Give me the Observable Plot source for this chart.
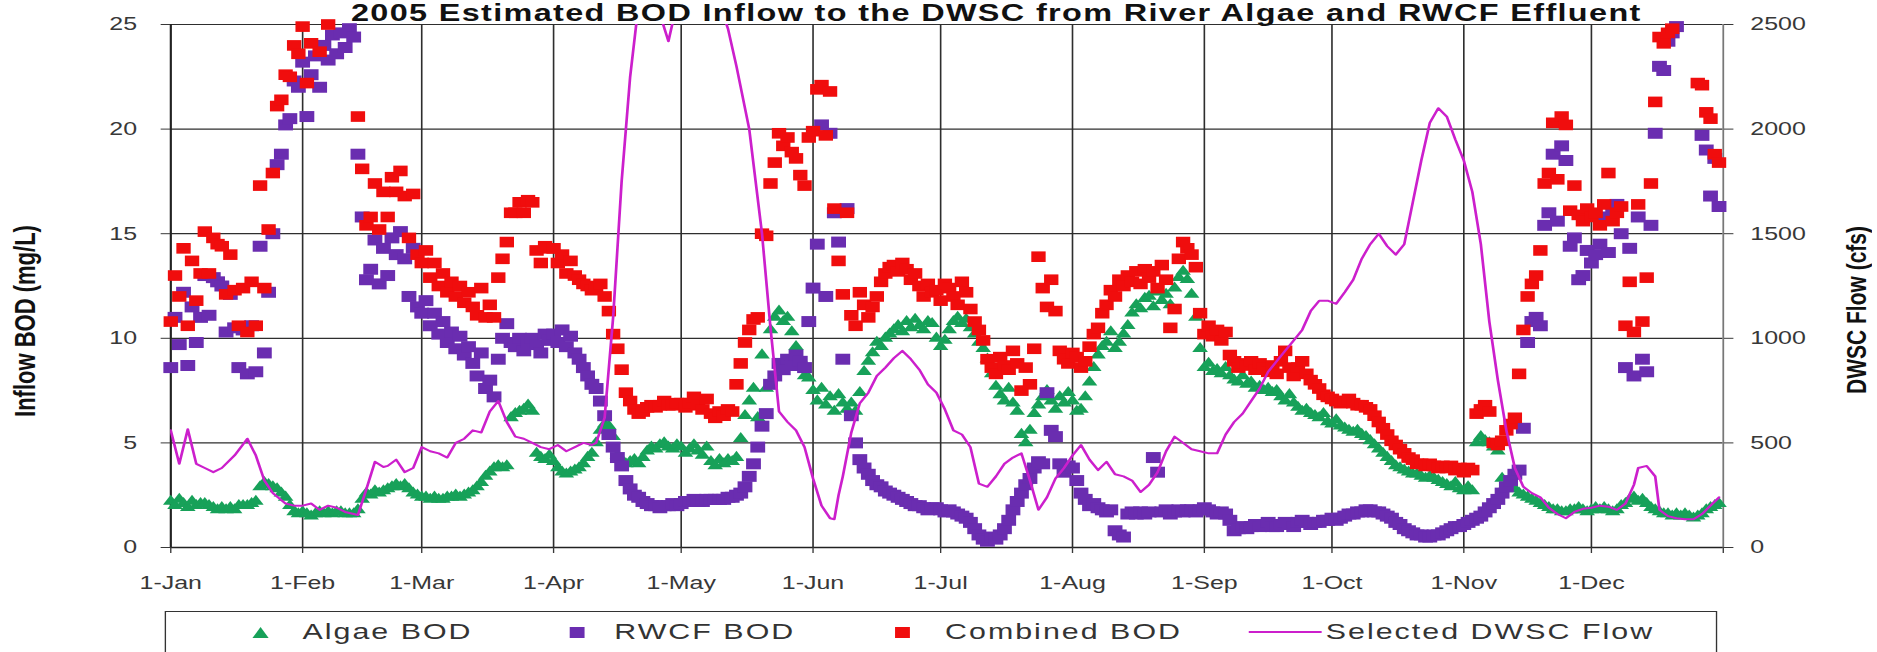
<!DOCTYPE html>
<html>
<head>
<meta charset="utf-8">
<script src="https://cdn.jsdelivr.net/npm/d3@7"></script>
<script src="https://cdn.jsdelivr.net/npm/@observablehq/plot@0.6"></script>
<style>
  html, body { margin: 0; padding: 0; background: #fff; overflow: hidden; }
  /* The whole figure is drawn at 1390 px and widened to the 1877 px page. */
  #stage {
    position: relative; width: 1390px; height: 652px; overflow: hidden;
    transform: scaleX(1.35); transform-origin: 0 0;
    font-family: "Liberation Sans", Arial, sans-serif; color: #333;
  }
  #chart { position: absolute; left: 0; top: 0; }
  .title {
    position: absolute; left: 738px; top: 0px; transform: translateX(-50%);
    font-size: 24px; line-height: 1.12; letter-spacing: 1px; font-weight: bold;
    white-space: nowrap; color: #111;
  }
  .ylabel {
    position: absolute; white-space: nowrap; font-weight: bold; line-height: 1; color: #111;
    transform: translate(-50%, -50%) rotate(-90deg);
  }
  .legend-box {
    position: absolute; left: 121.5px; top: 611px; width: 1150px; height: 70px;
    border: 1.5px solid #333; box-sizing: border-box;
  }
  .legend-item {
    position: absolute; top: 621px; font-size: 22.5px; line-height: 1; letter-spacing: 1.5px;
    white-space: nowrap; color: #333;
  }
  .legend-icon { position: absolute; overflow: visible; }
</style>
</head>
<body>
<div id="stage"></div>
<script>
// ---- 2005 daily series, one value per day starting 1 January ----

// Algae BOD (mg/L)
const algaeBOD = [
  2.2, 2.0, 2.3, 2.1, 1.9, 2.2, 2.0, 2.1, 2.1, 2.0,
  1.9, 1.8, 1.9, 1.8, 1.9, 1.8, 2.0, 2.0, 2.0, 2.1,
  2.2, 2.9, 3.1, 3.0, 2.9, 2.8, 2.6, 2.4, 2.0, 1.7,
  1.6, 1.7, 1.6, 1.5, 1.6, 1.7, 1.6, 1.7, 1.6, 1.7,
  1.7, 1.6, 1.6, 1.6, 1.8, 2.3, 2.6, 2.5, 2.7, 2.6,
  2.7, 2.8, 2.9, 3.0, 2.9, 3.0, 2.8, 2.6, 2.5, 2.4,
  2.4, 2.3, 2.4, 2.3, 2.3, 2.4, 2.4, 2.5, 2.4, 2.5,
  2.6, 2.7, 2.9, 3.1, 3.4, 3.6, 3.8, 3.9, 3.8, 3.9,
  6.2, 6.4, 6.5, 6.6, 6.8, 6.5, 4.5, 4.3, 4.2, 4.4,
  4.1, 3.8, 3.6, 3.5, 3.6, 3.7, 3.8, 4.0, 4.3, 4.5,
  5.0, 5.6, 5.9, 5.8, 5.3, 4.4, 4.2, 4.0, 4.1, 4.2,
  4.0, 4.3, 4.6, 4.8, 4.7, 4.9, 5.0, 4.8, 4.7, 4.9,
  4.8, 4.5, 4.7, 4.9, 4.6, 4.4, 4.8, 4.1, 3.9, 4.2,
  4.0, 4.2, 4.1, 4.3, 5.2, 6.3, 7.0, 7.6, 6.2, 9.2,
  7.6, 10.4, 11.0, 11.3, 10.8, 11.0, 10.3, 9.6, 9.0, 8.2,
  8.1, 7.5, 7.0, 7.6, 6.8, 7.2, 6.5, 7.3, 6.9, 6.6,
  6.9, 6.5, 7.4, 8.4, 8.9, 9.3, 9.8, 9.6, 10.0, 10.2,
  10.4, 10.6, 10.3, 10.8, 10.5, 10.9, 10.6, 10.4, 10.8, 10.7,
  10.0, 9.6, 9.9, 10.4, 10.8, 11.0, 10.7, 10.9, 10.5, 10.2,
  9.8, 9.5, 9.0, 8.3, 7.7, 7.3, 7.0, 7.6, 6.9, 6.5,
  5.4, 5.0, 5.6, 6.4, 6.8, 7.2, 7.5, 7.0, 6.6, 7.2,
  6.9, 7.4, 7.0, 6.5, 6.6, 7.2, 7.9, 8.6, 9.2, 9.6,
  9.8, 10.3, 9.5, 9.8, 10.2, 10.6, 11.2, 11.6, 11.4, 11.9,
  12.0, 11.5, 12.2, 11.8, 12.1, 11.6, 12.4, 12.9, 13.2, 12.8,
  12.1, 11.0, 9.5, 8.6, 8.8, 8.4, 8.5, 8.3, 8.6, 8.2,
  8.0, 7.9, 8.2, 7.8, 7.9, 7.6, 7.7, 7.5, 7.6, 7.4,
  7.5, 7.2, 7.0, 7.3, 6.9, 6.7, 6.5, 6.6, 6.4, 6.3,
  6.2, 6.4, 6.0, 5.9, 6.1, 5.8, 5.7, 5.6, 5.5, 5.6,
  5.4, 5.3, 5.1, 4.9, 4.7, 4.5, 4.3, 4.1, 3.9, 3.8,
  3.7, 3.6, 3.5, 3.5, 3.4, 3.3, 3.4, 3.3, 3.2, 3.1,
  3.0, 2.9, 3.1, 2.8, 2.7, 2.9, 2.7, 5.0, 5.3, 5.1,
  5.0, 4.8, 4.6, 3.3, 3.0, 2.9, 2.8, 2.6, 2.5, 2.4,
  2.3, 2.2, 2.1, 2.0, 1.9, 1.8, 1.8, 1.7, 1.7, 1.8,
  1.8, 1.9, 1.8, 1.7, 1.8, 1.9, 1.8, 1.9, 1.8, 1.7,
  1.8, 2.0, 2.1, 2.3, 2.4, 2.2, 2.3, 2.1, 1.9, 1.8,
  1.7, 1.6, 1.6, 1.5, 1.6, 1.5, 1.6, 1.5, 1.4, 1.5,
  1.6, 1.8, 1.9, 2.0, 2.1
];

// RWCF effluent BOD (mg/L)
const rwcfBOD = [
  8.6, 11.0, 9.7, 12.2, 8.7, 11.5, 9.8, 11.0, 13.0, 11.1,
  12.9, 12.7, 12.5, 10.3, 12.1, 10.5, 8.6, 10.4, 8.3, 10.6,
  8.4, 14.4, 9.3, 12.2, 15.0, 18.3, 18.8, 20.2, 20.5, 22.3,
  22.0, 23.2, 20.6, 22.6, 23.5, 22.0, 24.0, 23.3, 24.5, 23.6,
  24.6, 23.9, 24.8, 24.4, 18.8, 15.8, 12.8, 13.3, 14.7, 12.6,
  14.3, 13.0, 14.8, 14.0, 15.1, 13.8, 12.0, 14.3, 11.5, 11.2,
  11.8, 10.6, 11.2, 10.2, 10.8, 9.8, 10.3, 9.5, 10.1, 9.2,
  9.6, 8.8, 8.2, 9.3, 7.6, 8.0, 7.2, 9.0, 10.0, 10.7,
  9.8, 9.6, 10.0, 9.4, 9.8, 10.0, 9.7, 9.3, 10.2, 9.9,
  10.2, 9.8, 10.4, 9.6, 10.1, 9.3, 9.0, 8.6, 8.2, 7.8,
  7.6, 7.0, 6.3, 5.4, 4.8, 4.3, 3.9, 3.2, 2.8, 2.5,
  2.4, 2.2, 2.1, 2.0, 2.0, 1.9, 2.0, 2.0, 2.1, 2.0,
  2.1, 2.2, 2.2, 2.3, 2.2, 2.2, 2.3, 2.3, 2.3, 2.3,
  2.3, 2.4, 2.4, 2.5, 2.6, 2.9, 3.4, 4.0, 4.8, 5.8,
  6.4, 7.8, 8.2, 8.8, 8.5, 9.0, 8.7, 9.2, 8.9, 8.6,
  10.8, 12.4, 14.5, 20.2, 12.0, 19.8, 16.0, 14.6, 9.0, 16.2,
  6.3, 5.0, 4.2, 3.8, 3.5, 3.2, 3.0, 2.9, 2.7, 2.6,
  2.5, 2.4, 2.3, 2.2, 2.1, 2.0, 2.0, 1.9, 1.8, 1.9,
  1.9, 1.8, 1.7, 1.8, 1.7, 1.6, 1.5, 1.4, 1.2, 0.9,
  0.6, 0.4, 0.3, 0.5, 0.4, 0.6, 0.9, 1.3, 1.8, 2.2,
  2.6, 3.0, 3.3, 3.8, 4.1, 4.0, 7.4, 5.6, 5.3, 4.0,
  3.6, 3.9, 3.8, 3.2, 2.6, 2.3, 2.0, 2.1, 1.9, 1.8,
  1.7, 1.8, 0.8, 0.6, 0.5, 1.6, 1.7, 1.6, 1.7, 1.6,
  1.7, 4.3, 3.6, 1.7, 1.8, 1.6, 1.7, 1.8, 1.7, 1.8,
  1.8, 1.7, 1.8, 1.9, 1.8, 1.7, 1.6, 1.7, 1.6, 1.3,
  0.8, 0.9, 1.0, 0.9, 1.0, 1.1, 1.0, 1.1, 1.2, 1.0,
  1.0, 1.1, 1.2, 1.1, 1.0, 1.2, 1.3, 1.2, 1.1, 1.2,
  1.2, 1.3, 1.3, 1.4, 1.3, 1.4, 1.5, 1.6, 1.6, 1.7,
  1.7, 1.8, 1.8, 1.7, 1.7, 1.6, 1.5, 1.4, 1.2, 1.1,
  0.9, 0.8, 0.7, 0.6, 0.6, 0.5, 0.5, 0.6, 0.6, 0.7,
  0.8, 0.9, 1.0, 1.0, 1.1, 1.2, 1.3, 1.4, 1.5, 1.7,
  1.9, 2.1, 2.3, 2.6, 2.9, 3.2, 3.5, 3.7, 5.7, 9.8,
  10.8, 11.0, 10.6, 15.4, 16.0, 18.8, 15.6, 19.2, 18.5, 14.4,
  14.8, 12.8, 13.0, 14.2, 13.6, 14.0, 14.5, 15.8, 14.1, 16.2,
  16.4, 15.0, 8.6, 14.3, 8.2, 15.8, 9.0, 8.4, 15.4, 19.8,
  23.0, 22.8, 24.2, 24.6, 24.9, 25.6, 26.0, 26.3, 26.5, 25.8,
  19.7, 19.0, 16.8, 18.6, 16.3
];

// Combined BOD (mg/L)
const combinedBOD = [
  10.8, 13.0, 12.0, 14.3, 10.6, 13.7, 11.8, 13.1, 15.1, 13.1,
  14.8, 14.5, 14.4, 12.1, 14.0, 12.3, 10.6, 12.4, 10.3, 12.7,
  10.6, 17.3, 12.4, 15.2, 17.9, 21.1, 21.4, 22.6, 22.5, 24.0,
  23.6, 24.9, 22.2, 24.1, 25.1, 23.7, 25.6, 25.0, 26.1, 25.3,
  26.3, 25.5, 26.4, 26.0, 20.6, 18.1, 15.4, 15.8, 17.4, 15.2,
  17.0, 15.8, 17.7, 17.0, 18.0, 16.8, 14.8, 16.9, 14.0, 13.6,
  14.2, 12.9, 13.6, 12.5, 13.1, 12.2, 12.7, 12.0, 12.5, 11.7,
  12.2, 11.5, 11.1, 12.4, 11.0, 11.6, 11.0, 12.9, 13.8, 14.6,
  16.0, 16.0, 16.5, 16.0, 16.6, 16.5, 14.2, 13.6, 14.4, 14.3,
  14.3, 13.6, 14.0, 13.1, 13.7, 13.0, 12.8, 12.6, 12.5, 12.3,
  12.4, 12.6, 12.0, 11.3, 10.2, 9.5, 8.5, 7.4, 7.0, 6.6,
  6.4, 6.5, 6.7, 6.8, 6.7, 6.8, 7.0, 6.8, 6.8, 6.9,
  6.9, 6.7, 6.9, 7.2, 6.8, 6.6, 7.1, 6.4, 6.2, 6.5,
  6.3, 6.6, 6.5, 7.8, 8.8, 9.8, 10.4, 10.9, 11.0, 15.0,
  14.9, 17.4, 18.4, 19.8, 19.2, 19.6, 18.9, 18.6, 17.8, 17.3,
  19.6, 19.9, 21.9, 22.1, 19.7, 21.8, 16.2, 13.7, 12.1, 16.0,
  11.1, 10.6, 12.2, 11.6, 11.0, 11.5, 12.0, 12.7, 13.1, 13.4,
  13.5, 13.2, 13.6, 13.3, 12.8, 13.1, 12.5, 12.0, 12.6, 12.2,
  12.3, 11.8, 12.6, 12.4, 12.0, 11.6, 12.7, 12.2, 11.4, 10.8,
  10.4, 9.9, 9.0, 8.6, 8.3, 9.1, 8.7, 8.5, 9.4, 8.8,
  7.5, 8.6, 7.8, 9.5, 13.9, 12.4, 11.5, 12.8, 11.3, 9.4,
  9.0, 8.8, 9.3, 9.1, 8.6, 8.9, 9.6, 10.2, 10.5, 11.2,
  11.6, 12.3, 12.0, 12.8, 12.5, 13.0, 12.7, 13.2, 12.6, 13.3,
  12.9, 13.2, 12.4, 13.5, 12.8, 10.5, 11.4, 13.8, 14.6, 14.3,
  14.0, 13.4, 11.2, 10.2, 10.6, 10.1, 10.4, 9.9, 10.3, 9.2,
  8.9, 8.6, 8.8, 8.7, 8.9, 8.5, 8.8, 8.6, 8.4, 8.7,
  8.3, 8.9, 9.4, 8.6, 8.2, 8.6, 8.9, 8.3, 8.0, 7.8,
  7.6, 7.3, 7.2, 7.1, 7.0, 6.9, 7.0, 7.1, 6.9, 6.8,
  6.8, 6.7, 6.6, 6.3, 6.0, 5.7, 5.4, 5.1, 4.9, 4.7,
  4.5, 4.3, 4.2, 4.0, 4.0, 3.9, 4.0, 3.9, 3.8, 3.9,
  3.8, 3.9, 3.7, 3.8, 3.6, 3.8, 3.7, 6.4, 6.6, 6.8,
  6.5, 5.0, 4.9, 5.1, 5.6, 5.9, 6.2, 8.3, 10.4, 12.0,
  12.6, 13.0, 14.2, 17.4, 17.9, 20.3, 17.6, 20.6, 20.2, 16.1,
  17.3, 15.9, 15.6, 16.2, 15.8, 16.0, 15.4, 16.4, 17.9, 15.6,
  16.0, 16.3, 10.6, 12.7, 10.3, 16.4, 10.8, 12.9, 17.4, 21.3,
  24.4, 24.1, 24.6, 24.8, 25.4, 26.5, 27.0, 27.5, 27.8, 22.2,
  22.1, 20.8, 20.5, 18.8, 18.4
];

// Selected DWSC flow (cfs): day of year and flow
const flowDay = [
  0, 2, 4, 6, 8, 10, 12, 15, 18, 20, 22, 24, 27, 29, 31, 33, 35, 37, 39, 41,
  44, 46, 48, 50, 51, 53, 55, 57, 59, 61, 63, 65, 67, 69, 71, 73, 75, 77, 79, 81,
  83, 85, 87, 89, 91, 93, 95, 97, 99, 100, 102, 104, 106, 108, 110, 113, 115, 117, 119, 122,
  126, 129, 131, 133, 136, 139, 141, 143, 145, 147, 149, 151, 153, 155, 156, 157, 158, 160, 162, 164,
  166, 168, 170, 172, 174, 176, 178, 180, 182, 184, 186, 188, 190, 192, 194, 196, 198, 200, 202, 204,
  206, 208, 210, 212, 214, 216, 218, 220, 222, 224, 226, 228, 230, 232, 234, 236, 238, 240, 242, 244,
  246, 248, 250, 252, 254, 256, 258, 260, 262, 264, 266, 268, 270, 272, 274, 276, 278, 280, 282, 284,
  286, 288, 290, 292, 294, 296, 298, 300, 302, 304, 306, 308, 310, 312, 314, 316, 318, 320, 322, 324,
  326, 328, 330, 332, 334, 336, 338, 340, 342, 344, 345, 347, 349, 350, 352, 354, 356, 358, 360, 362,
  364
];
const flowCfs = [
  560, 400, 565, 400, 380, 360, 380, 440, 520, 440, 320, 260, 210, 200, 200, 210, 180, 200, 190, 170,
  155, 280, 410, 385, 390, 420, 360, 380, 480, 460, 450, 430, 500, 520, 560, 550, 650, 700, 600, 530,
  520, 500, 480, 470, 490, 460, 480, 500, 490, 500, 620, 1100, 1750, 2250, 2600, 2700, 2550, 2420, 2600, 2800,
  2800, 2600, 2480, 2300, 2000, 1500, 1050, 650, 600, 560, 480, 330, 200, 140, 135, 250, 340, 550, 690, 740,
  820, 860, 905, 940, 900, 850, 780, 740, 660, 560, 540, 480, 305, 290, 340, 400, 430, 450, 320, 180,
  240, 330, 380, 440, 490, 420, 370, 410, 350, 340, 320, 265, 300, 360, 460, 530, 500, 470, 460, 450,
  450, 540, 600, 640, 700, 760, 840, 890, 940, 990, 1040, 1130, 1180, 1180, 1165, 1220, 1280, 1380, 1450, 1500,
  1440, 1400, 1450, 1650, 1850, 2030, 2100, 2060, 1950, 1850, 1700, 1450, 1080, 800, 560, 380, 290, 260, 240, 190,
  160, 140, 170, 185, 190, 200, 195, 180, 210, 300, 380, 390, 340, 180, 150, 140, 135, 135, 160, 200,
  240
];

// Axis ticks and labels
const bodTicks = [0, 5, 10, 15, 20, 25];
const flowTickLabels = ["0", "500", "1000", "1500", "2000", "2500"];
const monthLabels = ["1-Jan", "1-Feb", "1-Mar", "1-Apr", "1-May", "1-Jun",
                     "1-Jul", "1-Aug", "1-Sep", "1-Oct", "1-Nov", "1-Dec"];

const titleText = "2005 Estimated BOD Inflow to the DWSC from River Algae and RWCF Effluent";
const leftAxisTitle = "Inflow BOD (mg/L)";
const rightAxisTitle = "DWSC Flow (cfs)";
const seriesNames = ["Algae BOD", "RWCF BOD", "Combined BOD", "Selected DWSC Flow"];

const colors = {algae: "#17a159", rwcf: "#6a2db0", combined: "#f00d0d", flow: "#cc1fcc"};

// ---- build the chart ----
const startDate = new Date(Date.UTC(2005, 0, 1));
const endDate = new Date(Date.UTC(2006, 0, 1));
const dayDate = d => new Date(Date.UTC(2005, 0, 1 + d));
const cfsPerMgL = 2500 / 25; // right axis spans 0–2500 against 0–25 on the left

const toRows = values => values.map((v, d) => ({date: dayDate(d), value: v}));
const algaeRows = toRows(algaeBOD);
const rwcfRows = toRows(rwcfBOD);
const combinedRows = toRows(combinedBOD);
const flowRows = flowDay.map((d, i) => ({date: dayDate(d), cfs: flowCfs[i]}));

const monthStarts = d3.utcMonth.range(startDate, endDate);
const xTicks = [...monthStarts, endDate];
const monthLabelByTime = new Map(monthStarts.map((d, i) => [+d, monthLabels[i]]));
const flowLabelByTick = new Map(bodTicks.map((v, i) => [v, flowTickLabels[i]]));
const inRange = d => d.value <= 25; // values above the axis maximum are not plotted

const gridStyle = {stroke: "#2e2e2e", strokeOpacity: 1, strokeWidth: 1.2};

const chart = Plot.plot({
  width: 1390,
  height: 610,
  marginLeft: 126,
  marginRight: 114,
  marginTop: 24,
  marginBottom: 63,
  style: {fontFamily: "Liberation Sans, Arial, sans-serif", fontSize: "18.5px", color: "#383838", background: "transparent"},
  x: {type: "utc", domain: [startDate, endDate]},
  y: {domain: [0, 25]},
  marks: [
    Plot.gridY(bodTicks, gridStyle),
    Plot.gridX(monthStarts, gridStyle),
    Plot.ruleX([startDate], {stroke: "#222", strokeWidth: 1.5}),
    Plot.ruleX([endDate], {stroke: "#777", strokeWidth: 1.3}),
    Plot.ruleY([0], {stroke: "#222", strokeWidth: 1.5}),
    Plot.axisY(bodTicks, {anchor: "left", tickSize: 7, tickPadding: 18, label: null,
      tickFormat: d => String(d)}),
    Plot.axisY(bodTicks, {anchor: "right", tickSize: 7, tickPadding: 13, label: null,
      tickFormat: d => flowLabelByTick.get(d)}),
    Plot.axisX(xTicks, {anchor: "bottom", tickSize: 6, tickPadding: 22, label: null,
      tickFormat: d => monthLabelByTime.get(+d) ?? ""}),
    Plot.dot(algaeRows, {x: "date", y: "value", filter: inRange, symbol: "triangle", r: 4.3,
      fill: colors.algae, stroke: "none"}),
    Plot.dot(rwcfRows, {x: "date", y: "value", filter: inRange, symbol: "square", r: 6.2,
      fill: colors.rwcf, stroke: "none"}),
    Plot.dot(combinedRows, {x: "date", y: "value", filter: inRange, symbol: "square", r: 6.0,
      fill: colors.combined, stroke: "none"}),
    Plot.line(flowRows, {x: "date", y: d => d.cfs / cfsPerMgL, stroke: colors.flow,
      strokeWidth: 2, clip: true})
  ]
});
chart.id = "chart";

const stage = document.getElementById("stage");
stage.appendChild(chart);

// Title and axis titles
const title = document.createElement("div");
title.className = "title";
title.textContent = titleText;
stage.appendChild(title);

function addAxisTitle(text, cx, cy, size) {
  const el = document.createElement("div");
  el.className = "ylabel";
  el.textContent = text;
  el.style.left = cx + "px";
  el.style.top = cy + "px";
  el.style.fontSize = size + "px";
  stage.appendChild(el);
}
addAxisTitle(leftAxisTitle, 18.5, 321, 22);
addAxisTitle(rightAxisTitle, 1375, 310, 21);

// Legend
const box = document.createElement("div");
box.className = "legend-box";
stage.appendChild(box);

const svgNS = "http://www.w3.org/2000/svg";
function icon(cx, cy, w, h, draw) {
  const s = document.createElementNS(svgNS, "svg");
  s.setAttribute("class", "legend-icon");
  s.setAttribute("width", w);
  s.setAttribute("height", h);
  s.style.left = (cx - w / 2) + "px";
  s.style.top = (cy - h / 2) + "px";
  draw(s, w, h);
  stage.appendChild(s);
}
function shape(parent, tag, attrs) {
  const el = document.createElementNS(svgNS, tag);
  for (const k in attrs) el.setAttribute(k, attrs[k]);
  parent.appendChild(el);
}
const legendY = 632;
icon(193, legendY, 12, 11, (s, w, h) => shape(s, "path", {d: `M${w / 2},0L${w},${h}L0,${h}Z`, fill: colors.algae}));
icon(427, legendY, 11, 11, (s, w, h) => shape(s, "rect", {width: w, height: h, fill: colors.rwcf}));
icon(668, legendY, 11, 11, (s, w, h) => shape(s, "rect", {width: w, height: h, fill: colors.combined}));
icon(952, legendY, 54, 4, (s, w, h) => shape(s, "line", {x1: 0, x2: w, y1: h / 2, y2: h / 2, stroke: colors.flow, "stroke-width": 2.2}));

const textLefts = [224, 455, 700, 982];
seriesNames.forEach((name, i) => {
  const el = document.createElement("div");
  el.className = "legend-item";
  el.style.left = textLefts[i] + "px";
  el.textContent = name;
  stage.appendChild(el);
});
</script>
</body>
</html>
